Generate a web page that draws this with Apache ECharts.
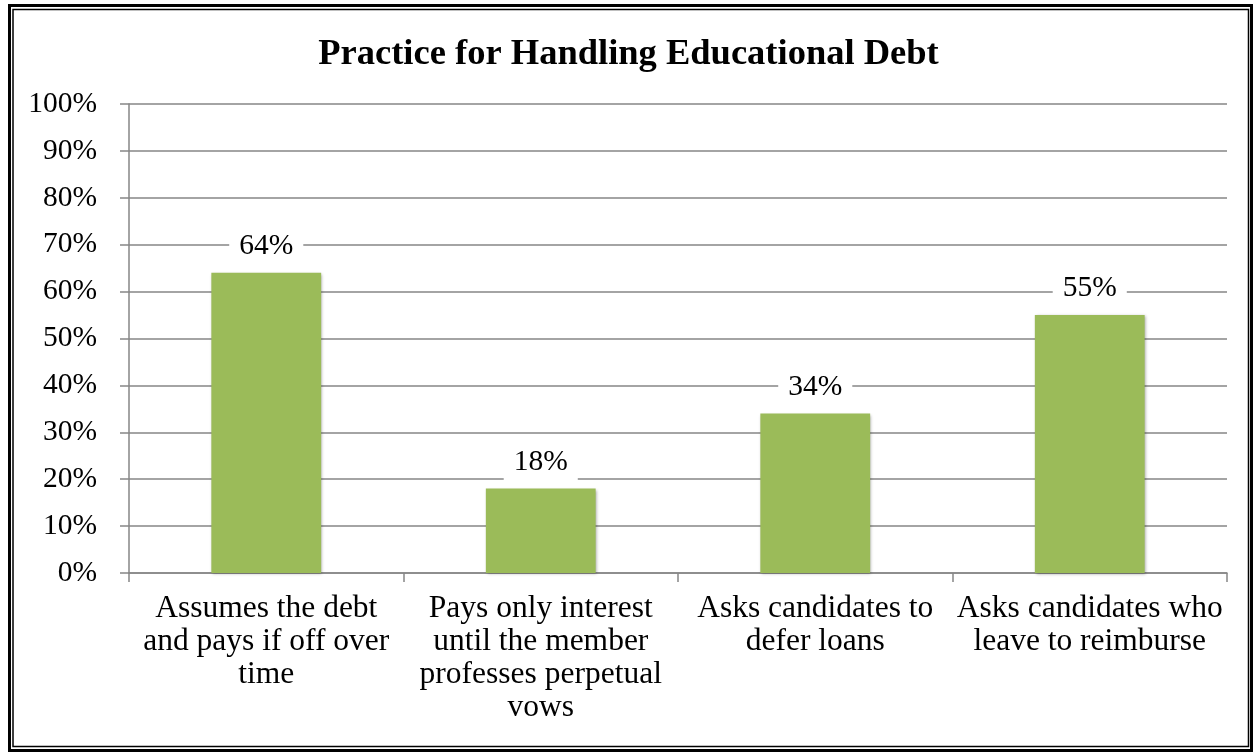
<!DOCTYPE html>
<html>
<head>
<meta charset="utf-8">
<title>Practice for Handling Educational Debt</title>
<script src="https://cdn.jsdelivr.net/npm/echarts@6/dist/echarts.min.js"></script>
<style>
  html, body { margin: 0; padding: 0; background: #ffffff; }
  #chart { width: 1257px; height: 753px; }
</style>
</head>
<body>
<div id="chart"></div>
<script>
// Survey results: share of communities using each practice
const chartTitle = 'Practice for Handling Educational Debt';
const categories = [
  'Assumes the debt\nand pays if off over\ntime',
  'Pays only interest\nuntil the member\nprofesses perpetual\nvows',
  'Asks candidates to\ndefer loans',
  'Asks candidates who\nleave to reimburse'
];
const percentValues = [64, 18, 34, 55];
const yTicks = [0, 10, 20, 30, 40, 50, 60, 70, 80, 90, 100];

const serif = '"Liberation Serif", "Times New Roman", Times, serif';
const gridGray = '#868686';

const chart = echarts.init(document.getElementById('chart'), null, { renderer: 'canvas' });

chart.setOption({
  backgroundColor: '#ffffff',
  animation: false,
  title: {
    text: chartTitle,
    left: 'center',
    top: 31,
    textStyle: { fontFamily: serif, fontSize: 36.5, fontWeight: 'bold', color: '#000000' }
  },
  grid: { left: 129, right: 30, top: 104, bottom: 180, containLabel: false },
  xAxis: {
    type: 'category',
    data: categories,
    axisLine: { show: true, lineStyle: { color: gridGray, width: 1.5 } },
    axisTick: { show: true, length: 9, lineStyle: { color: gridGray, width: 1.5 } },
    axisLabel: {
      interval: 0,
      margin: 19,
      fontFamily: serif,
      fontSize: 31.5,
      lineHeight: 33,
      color: '#000000',
      align: 'center'
    }
  },
  yAxis: {
    type: 'value',
    min: yTicks[0],
    max: yTicks[yTicks.length - 1],
    interval: 10,
    axisLine: { show: true, lineStyle: { color: gridGray, width: 1.5 } },
    axisTick: { show: true, length: 9, lineStyle: { color: gridGray, width: 1.5 } },
    splitLine: { show: true, lineStyle: { color: gridGray, width: 1.5 } },
    axisLabel: {
      margin: 32,
      fontFamily: serif,
      fontSize: 29.5,
      color: '#000000',
      formatter: v => v + '%'
    }
  },
  series: [{
    type: 'bar',
    data: percentValues,
    barWidth: '40%',
    itemStyle: {
      color: '#9BBB59',
      shadowColor: 'rgba(0,0,0,0.35)',
      shadowBlur: 3,
      shadowOffsetX: 1,
      shadowOffsetY: 1
    },
    label: {
      show: true,
      position: 'top',
      distance: 4,
      formatter: p => p.value + '%',
      fontFamily: serif,
      fontSize: 29.5,
      lineHeight: 33,
      color: '#000000',
      backgroundColor: '#ffffff',
      padding: [6, 10]
    }
  }],
  graphic: [
    {
      type: 'rect',
      silent: true,
      shape: { x: 9.5, y: 5.5, width: 1242, height: 745 },
      style: { fill: 'none', stroke: '#000000', lineWidth: 3 }
    },
    {
      type: 'rect',
      silent: true,
      shape: { x: 13, y: 9.5, width: 1235.5, height: 737 },
      style: { fill: 'none', stroke: '#000000', lineWidth: 1.5 }
    }
  ]
});
</script>
</body>
</html>
